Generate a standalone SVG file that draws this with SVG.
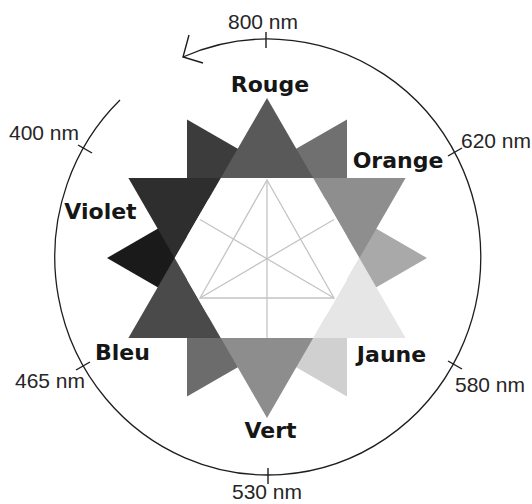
<svg xmlns="http://www.w3.org/2000/svg" width="532" height="504" viewBox="0 0 532 504">
<style>
.lbl{font-family:"DejaVu Sans",Verdana,sans-serif;font-weight:bold;font-size:22px;fill:#161616;text-anchor:middle}
.nm{font-family:"Liberation Sans",Arial,sans-serif;font-size:21px;fill:#262626}
.tick{stroke:#1e1e1e;stroke-width:1.4;fill:none}
.inner{stroke:#c4c4c4;stroke-width:1.3;fill:none}
</style>
<rect width="532" height="504" fill="#ffffff"/>
<g id="star">
  <g id="back-triangles">
    <polygon points="267,165.6 347,211.8 347,119.4" fill="#707070"/>
    <polygon points="347,211.8 347,304.2 427,258" fill="#a9a9a9"/>
    <polygon points="347,304.2 267,350.4 347,396.6" fill="#d0d0d0"/>
    <polygon points="267,350.4 187,304.2 187,396.6" fill="#6c6c6c"/>
    <polygon points="187,304.2 187,211.8 107,258" fill="#1a1a1a"/>
    <polygon points="187,211.8 267,165.6 187,119.4" fill="#3c3c3c"/>
  </g>
  <g id="front-triangles">
    <polygon id="tri-rouge" points="220.8,178 313.2,178 267,98" fill="#595959"/>
    <polygon id="tri-orange" points="313.2,178 359.4,258 405.6,178" fill="#8e8e8e"/>
    <polygon id="tri-jaune" points="359.4,258 313.2,338 405.6,338" fill="#e6e6e6"/>
    <polygon id="tri-vert" points="313.2,338 220.8,338 267,418" fill="#8d8d8d"/>
    <polygon id="tri-bleu" points="220.8,338 174.6,258 128.4,338" fill="#4a4a4a"/>
    <polygon id="tri-violet" points="174.6,258 220.8,178 128.4,178" fill="#2e2e2e"/>
  </g>
  <g id="center">
    <polygon points="220.8,178 313.2,178 359.4,258 313.2,338 220.8,338 174.6,258" fill="#ffffff"/>
    <polygon class="inner" points="267,180 200,298 334,298"/>
    <line class="inner" x1="267" y1="180" x2="267" y2="338"/>
    <line class="inner" x1="200" y1="219.5" x2="334" y2="298"/>
    <line class="inner" x1="334" y1="219.5" x2="200" y2="298"/>
  </g>
</g>
<g id="connectors">
  <path id="wavelength-arc" d="M183,57 A213,218 0 1 1 120,100" fill="none" stroke="#1e1e1e" stroke-width="1.3"/>
  <polyline id="arrowhead" points="189,35 183,57 203,63" fill="none" stroke="#1e1e1e" stroke-width="1.4"/>
</g>
<g id="ticks">
  <line class="tick" x1="266" y1="32" x2="266" y2="48"/>
  <line class="tick" x1="448" y1="156" x2="462" y2="148"/>
  <line class="tick" x1="448" y1="361" x2="462" y2="369"/>
  <line class="tick" x1="268" y1="468" x2="268" y2="484"/>
  <line class="tick" x1="76" y1="370" x2="90" y2="362"/>
  <line class="tick" x1="78" y1="145" x2="92" y2="153"/>
</g>
<g id="color-labels">
  <g id="node-rouge"><text class="lbl" x="270" y="92">Rouge</text></g>
  <g id="node-orange"><text class="lbl" x="398" y="168">Orange</text></g>
  <g id="node-jaune"><text class="lbl" x="391.5" y="362">Jaune</text></g>
  <g id="node-vert"><text class="lbl" x="270.5" y="438">Vert</text></g>
  <g id="node-bleu"><text class="lbl" x="122.5" y="360">Bleu</text></g>
  <g id="node-violet"><text class="lbl" x="100.5" y="219">Violet</text></g>
</g>
<g id="wavelength-labels">
  <text class="nm" x="228" y="29">800 nm</text>
  <text class="nm" x="461" y="148">620 nm</text>
  <text class="nm" x="455" y="392">580 nm</text>
  <text class="nm" x="232" y="499">530 nm</text>
  <text class="nm" x="15" y="388">465 nm</text>
  <text class="nm" x="9" y="140">400 nm</text>
</g>
</svg>
